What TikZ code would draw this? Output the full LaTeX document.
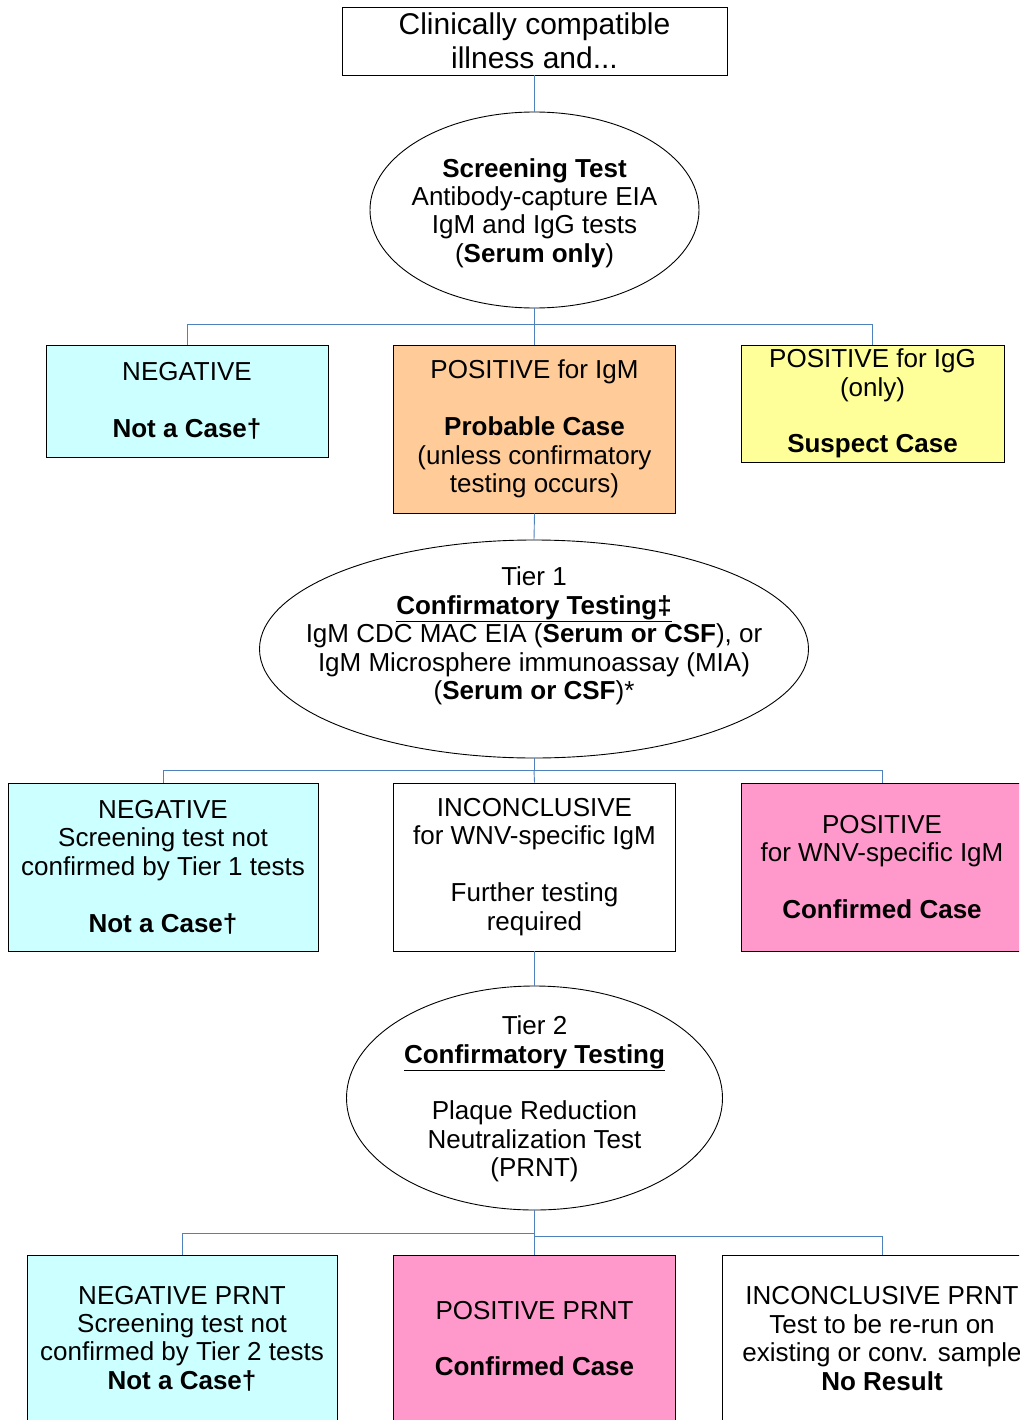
\documentclass[tikz,border=0pt]{standalone}
\usepackage{fontspec}
\setmainfont{Liberation Sans}
\usetikzlibrary{shapes.geometric}
\definecolor{cyanbox}{HTML}{CCFFFF}
\definecolor{orangebox}{HTML}{FFCC99}
\definecolor{yellowbox}{HTML}{FFFF99}
\definecolor{pinkbox}{HTML}{FF99CC}
\definecolor{linkblue}{HTML}{4F81BD}
\begin{document}
\begin{tikzpicture}[x=1pt,y=-1pt,
  box/.style={draw=black, line width=0.9pt, rectangle, inner sep=0pt, align=center,
    font=\fontsize{26}{28.4}\selectfont},
  oval/.style={draw=black, line width=0.9pt, ellipse, inner sep=0pt},
  txt/.style={align=center, inner sep=0pt, font=\fontsize{26}{28.4}\selectfont},
  conn/.style={draw=linkblue, line width=0.9pt}]
\useasboundingbox (0,0) rectangle (1019,1420);
\clip (0,0) rectangle (1019,1420);
\fill[white] (0,0) rectangle (1019,1420);

% top
\node[box, minimum width=385pt, minimum height=68pt, font=\fontsize{30}{34}\selectfont]
  (top) at (534.5,41) {Clinically compatible\\illness and...};
\node[oval, minimum width=329pt, minimum height=196pt] (e1) at (534.5,210) {};
\node[txt] (e1t) at (534.5,213) {\textbf{Screening Test}\\Antibody-capture EIA\\IgM and IgG tests\\(\textbf{Serum only})};

% row 1
\node[box, fill=cyanbox, minimum width=282pt, minimum height=112pt] (neg1) at (187,401)
  {NEGATIVE\\[28.4pt]\textbf{Not a Case†}};
\node[box, fill=orangebox, minimum width=282pt, minimum height=168pt] (pigm) at (534.5,429)
  {POSITIVE for IgM\\[28.4pt]\textbf{Probable Case}\\(unless confirmatory\\testing occurs)};
\node[box, fill=yellowbox, minimum width=263pt, minimum height=117pt] (pigg) at (872.5,403.5)
  {POSITIVE for IgG\\(only)\\[28.4pt]\textbf{Suspect Case}};

% tier 1
\node[oval, minimum width=549pt, minimum height=218pt] (e2) at (534,649) {};
\node[txt] (e2t) at (534,636) {Tier 1\\\textbf{\underline{Confirmatory Testing‡}}\\IgM CDC MAC EIA (\textbf{Serum or CSF}), or\\IgM Microsphere immunoassay (MIA)\\(\textbf{Serum or CSF})*};

% row 2
\node[box, fill=cyanbox, minimum width=310pt, minimum height=168pt] (neg2) at (163,867)
  {NEGATIVE\\Screening test not\\confirmed by Tier 1 tests\\[28.4pt]\textbf{Not a Case†}};
\node[box, fill=white, minimum width=282pt, minimum height=168pt] (inc) at (534.5,867)
  {INCONCLUSIVE\\for WNV-specific IgM\\[28.4pt]Further testing\\required};
\node[box, fill=pinkbox, minimum width=282pt, minimum height=168pt] (pwnv) at (882,867)
  {POSITIVE\\for WNV-specific IgM\\[28.4pt]\textbf{Confirmed Case}};

% tier 2
\node[oval, minimum width=376pt, minimum height=224pt] (e3) at (534.5,1098) {};
\node[txt] (e3t) at (534.5,1099) {Tier 2\\\textbf{\underline{Confirmatory Testing}}\\[28.4pt]Plaque Reduction\\Neutralization Test\\(PRNT)};

% row 3
\node[box, fill=cyanbox, minimum width=310pt, minimum height=167pt] (neg3) at (182,1338.5)
  {NEGATIVE PRNT\\Screening test not\\confirmed by Tier 2 tests\\\textbf{Not a Case†}};
\node[box, fill=pinkbox, minimum width=282pt, minimum height=167pt] (pprnt) at (534.5,1338.5)
  {POSITIVE PRNT\\[28.4pt]\textbf{Confirmed Case}};
\node[box, fill=white, minimum width=320pt, minimum height=167pt] (iprnt) at (882,1338.5)
  {INCONCLUSIVE PRNT\\Test to be re-run on\\existing or conv. sample\\\textbf{No Result}};

% connectors
\draw[conn] (top.south) -- (e1.north);
\draw[conn] (e1.south) -- (e1.south |- 0,324) -| (neg1.north);
\draw[conn] (e1.south |- 0,324) -| (pigg.north);
\draw[conn] (e1.south |- 0,324) -- (pigm.north);
\draw[conn] (pigm.south) -- (e2.north);
\draw[conn] (e2.south) -- (e2.south |- 0,770) -| (neg2.north);
\draw[conn] (e2.south |- 0,770) -| (pwnv.north);
\draw[conn] (e2.south |- 0,770) -- (inc.north);
\draw[conn] (inc.south) -- (e3.north);
\draw[conn] (e3.south) -- (e3.south |- 0,1233) -| (neg3.north);
\draw[conn] (e3.south |- 0,1236) -| (iprnt.north);
\draw[conn] (e3.south |- 0,1233) -- (pprnt.north);
\end{tikzpicture}
\end{document}
